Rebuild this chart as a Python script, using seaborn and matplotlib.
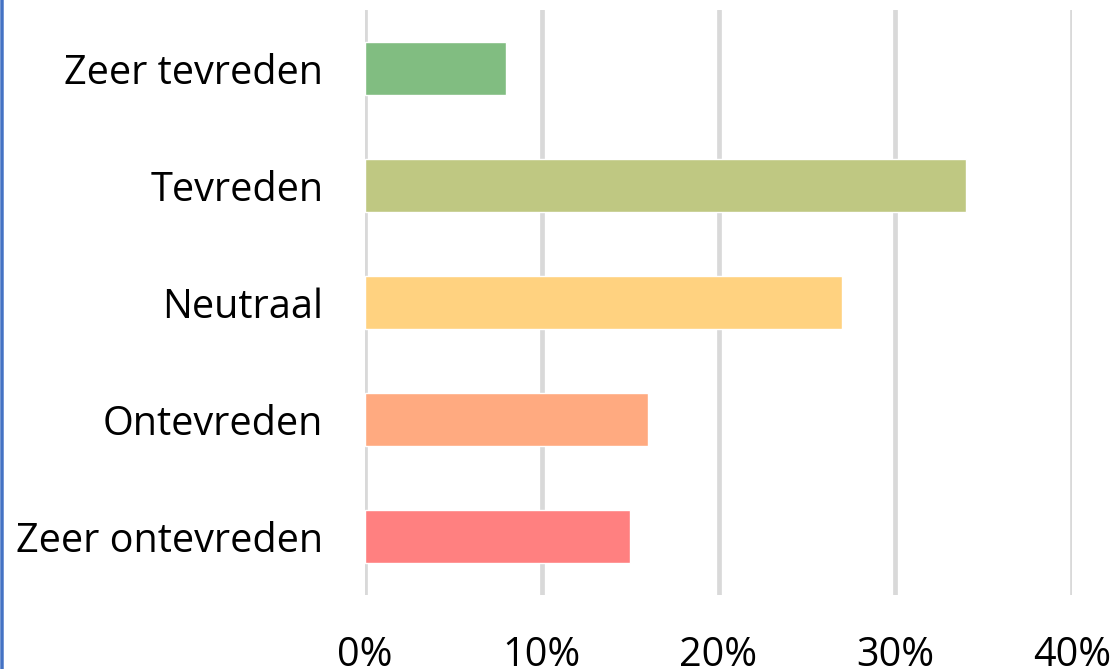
import matplotlib
matplotlib.use("Agg")
import matplotlib.pyplot as plt
import seaborn as sns
import pandas as pd
from matplotlib.patches import FancyBboxPatch

categories = ["Zeer tevreden", "Tevreden", "Neutraal", "Ontevreden", "Zeer ontevreden"]
values = [8, 34, 27, 16, 15]
colors = ["#81bd81", "#bfc882", "#ffd280", "#ffaa80", "#ff8080"]
xticks = [0, 10, 20, 30, 40]
xticklabels = ["0%", "10%", "20%", "30%", "40%"]

sns.set_theme(style="white")
plt.rcParams["font.family"] = ["Open Sans", "DejaVu Sans"]

W, H = 1117, 669
fig = plt.figure(figsize=(W / 100, H / 100), dpi=100)
ax = fig.add_axes([365 / W, 1 - 595 / H, (1072 - 365) / W, (595 - 10) / H])

df = pd.DataFrame({"cat": categories, "val": values})
sns.barplot(data=df, x="val", y="cat", hue="cat", palette=colors, legend=False,
            width=0.45, ax=ax, zorder=3, saturation=1)

ax.set_xlim(0, 40)
ax.set_ylim(4.5, -0.5)
ax.set_xticks(xticks)
ax.set_xticklabels(xticklabels)
ax.xaxis.grid(True, color="#d9d9d9", linewidth=3.4, zorder=0)
ax.yaxis.grid(False)
for s in ax.spines.values():
    s.set_visible(False)
ax.set_xlabel("")
ax.set_ylabel("")
ax.tick_params(axis="x", length=0, pad=29, labelsize=28.5, colors="#000000")
ax.tick_params(axis="y", length=0, pad=30, labelsize=28.5, colors="#000000")

border = FancyBboxPatch((2 / W, -0.2), 1.2, 1.4, boxstyle="round,pad=0,rounding_size=0.02",
                        transform=fig.transFigure, fill=False, edgecolor="#4472c4",
                        linewidth=2.5, clip_on=False)
fig.add_artist(border)

fig.savefig("out.png", dpi=100)
